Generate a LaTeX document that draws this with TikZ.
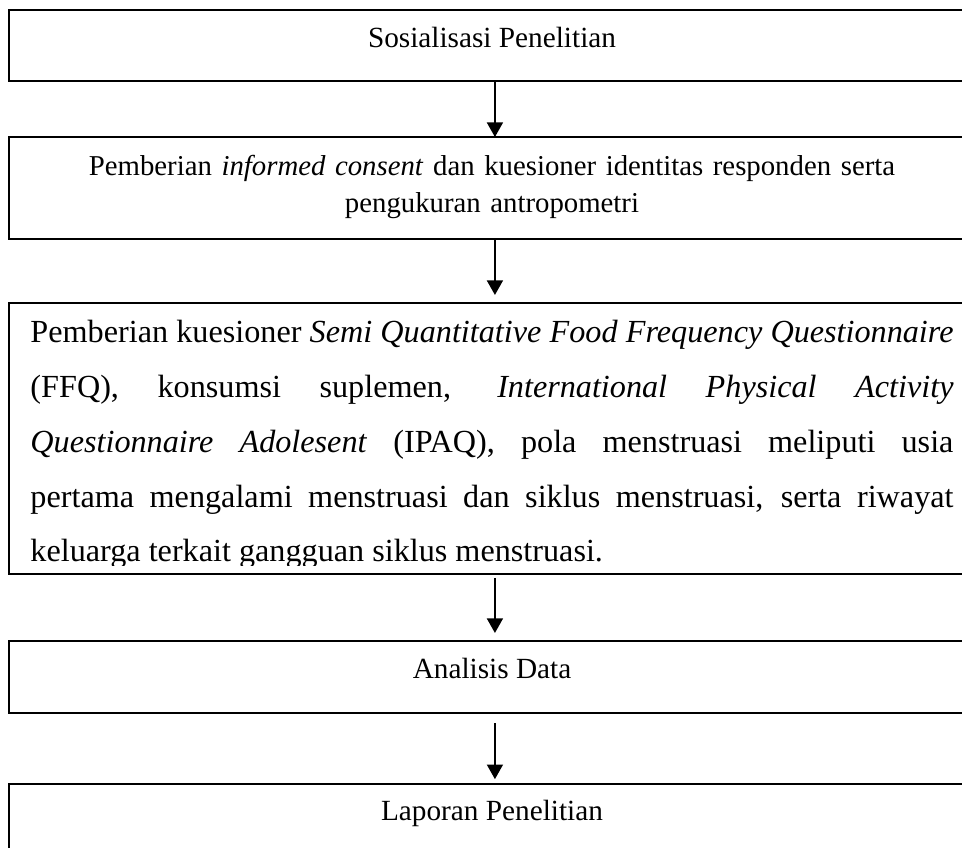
\documentclass[tikz,border=0pt]{standalone}
\usepackage{fontspec}
\setmainfont{Liberation Serif}
\usetikzlibrary{arrows.meta}

\tikzset{
  stage/.style={draw, line width=0.6pt, inner sep=0pt, outer sep=0pt, minimum width={966*0.41pt}},
  label txt/.style={anchor=base, inner sep=0pt, font=\fontsize{12pt}{15.2pt}\selectfont},
  body txt/.style={anchor=base west, inner sep=0pt, text width={923*0.41pt}, align=justify,
    font=\fontsize{13.2pt}{22.47pt}\selectfont},
  flow/.style={line width=0.6pt, -{Triangle[width=6.6pt,length=6pt]}},
}

\begin{document}
\begin{tikzpicture}[x=0.41pt, y=-0.41pt]
  \clip (0, 0) rectangle (962, 847);

  \node[stage, minimum height={71*0.41pt}] (sos) at (492, 45.5) {};
  \node[stage, minimum height={102*0.41pt}] (inf) at (492, 188) {};
  \node[stage, minimum height={271*0.41pt}] (kue) at (492, 438.5) {};
  \node[stage, minimum height={72*0.41pt}] (ana) at (492, 677) {};
  \node[stage, minimum height={72*0.41pt}] (lap) at (492, 820) {};

  \node[label txt] (sostxt) at (492, 47) {Sosialisasi Penelitian};
  \node[label txt, font=\fontsize{11.8pt}{15.2pt}\selectfont, text width={900*0.41pt}, align=center] (inftxt) at (492, 175)
    {Pemberian \textit{informed consent} dan kuesioner identitas responden serta\\ pengukuran antropometri};
  \begin{scope}
    \clip (9, 303) rectangle (975, 565.5);
    \node[body txt] (kuetxt) at (30, 342.7)
      {Pemberian kuesioner \textit{Semi Quantitative Food Frequency Questionnaire}\linebreak
       (FFQ), konsumsi suplemen, \textit{International Physical Activity}\linebreak
       \textit{Questionnaire Adolesent} (IPAQ), pola menstruasi meliputi usia\linebreak
       pertama mengalami menstruasi dan siklus menstruasi, serta riwayat\linebreak
       keluarga terkait gangguan siklus menstruasi.};
  \end{scope}
  \node[label txt] (anatxt) at (492, 678) {Analisis Data};
  \node[label txt] (laptxt) at (492, 820) {Laporan Penelitian};

  \draw[flow] ([xshift=1.2pt]sos.south) -- ([xshift=1.2pt]inf.north);
  \draw[flow, shorten >=3.3pt] ([xshift=1.2pt]inf.south) -- ([xshift=1.2pt]kue.north);
  \draw[flow, shorten <=1.6pt, shorten >=3.3pt] ([xshift=1.2pt]kue.south) -- ([xshift=1.2pt]ana.north);
  \draw[flow, shorten <=4.1pt, shorten >=2pt] ([xshift=1.2pt]ana.south) -- ([xshift=1.2pt]lap.north);
\end{tikzpicture}
\end{document}
